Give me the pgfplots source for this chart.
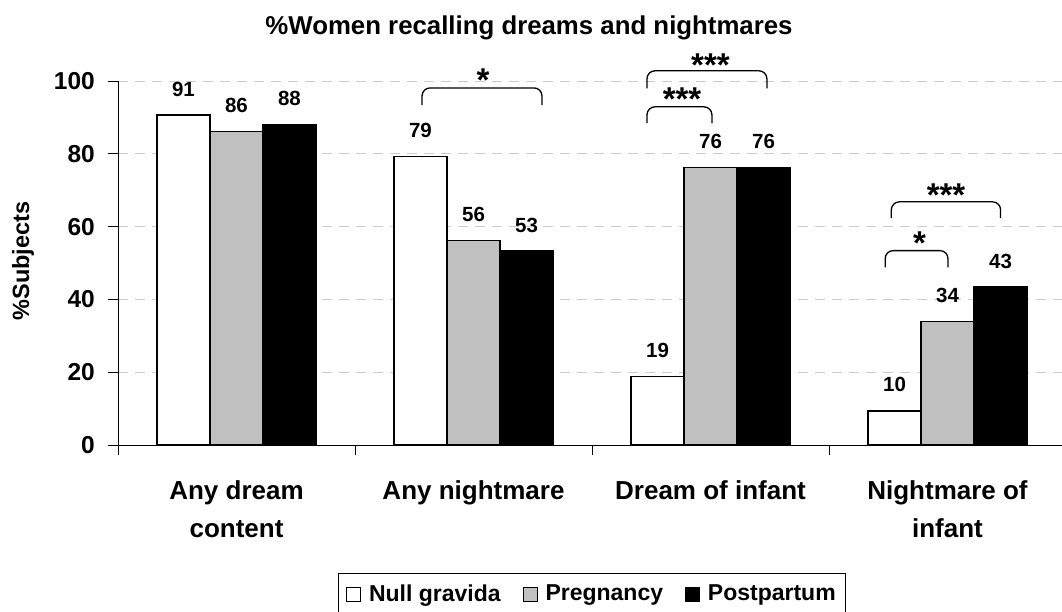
\documentclass[border=0pt]{standalone}
\usepackage{fontspec}
\setmainfont{Liberation Sans}
\usepackage{pgfplots}
\pgfplotsset{compat=1.18}
\definecolor{barGray}{HTML}{C0C0C0}
\definecolor{gridGray}{HTML}{CCCCCC}
\begin{document}
\begin{tikzpicture}
\begin{axis}[
  at={(0pt,0pt)}, anchor=south west,
  scale only axis, width=948pt, height=364pt,
  xmin=-0.5, xmax=3.5, ymin=0, ymax=100,
  clip=false,
  axis lines=left,
  axis line style={-, line width=0.8pt, black},
  ybar=0pt, bar width=53pt,
  ytick={0,20,40,60,80,100},
  /pgf/number format/assume math mode=true,
  yticklabel style={font=\bfseries\fontsize{24.5}{28}\selectfont, inner sep=0pt, xshift=-13pt},
  ymajorgrids,
  grid style={gridGray, dash pattern=on 10pt off 7pt, line width=0.8pt},
  tick align=outside, major tick length=10pt,
  tick style={black, line width=0.8pt},
  xtick={-0.5,0.5,1.5,2.5,3.5}, xticklabels={},
  extra x ticks={0,1,2,3},
  extra x tick labels={{Any dream\\content},{Any nightmare},{Dream of infant},{Nightmare of\\infant}},
  extra x tick style={major tick length=0pt,
    xticklabel style={align=center, anchor=north, inner sep=0pt, yshift=-35pt,
      font=\bfseries\fontsize{26}{38}\selectfont}},
  point meta=explicit symbolic,
  nodes near coords,
  nodes near coords style={font=\bfseries\fontsize{20.5}{24}\selectfont, anchor=center, yshift=26pt},
  legend columns=3,
  legend style={at={(0.5,-0.3516)}, anchor=north, draw=black, line width=0.8pt,
    font=\bfseries\fontsize{23}{27}\selectfont,
    /tikz/every odd column/.append style={column sep=6pt},
    /tikz/every even column/.append style={column sep=20pt},
    inner xsep=8pt, inner ysep=9pt},
  legend image code/.code={\draw[#1, draw=black, line width=0.8pt] (0pt,-8pt) rectangle (14pt,6pt);},
]
\addplot[fill=white, draw=black, line width=1.5pt] coordinates {(0,90.6) [91] (1,79.2) [79] (2,18.8) [19] (3,9.4) [10]};
\addplot[fill=barGray, draw=black, line width=1.5pt] coordinates {(0,86.1) [86] (1,56.2) [56] (2,76.2) [76] (3,33.9) [34]};
\addplot[fill=black, draw=black, line width=1.5pt] coordinates {(0,88.1) [88] (1,53.3) [53] (2,76.2) [76] (3,43.4) [43]};
\legend{Null gravida, Pregnancy, Postpartum}
% significance brackets
\draw[line width=1.3pt, rounded corners=8pt] (axis cs:0.783,93.4) -- (axis cs:0.783,98.1) -- (axis cs:1.289,98.1) -- (axis cs:1.289,93.4);
\draw[line width=1.3pt, rounded corners=8pt] (axis cs:1.732,88.4) -- (axis cs:1.732,92.9) -- (axis cs:2.006,92.9) -- (axis cs:2.006,88.4);
\draw[line width=1.3pt, rounded corners=8pt] (axis cs:1.732,98.0) -- (axis cs:1.732,102.8) -- (axis cs:2.238,102.8) -- (axis cs:2.238,98.0);
\draw[line width=1.3pt, rounded corners=8pt] (axis cs:2.763,62.3) -- (axis cs:2.763,66.8) -- (axis cs:3.224,66.8) -- (axis cs:3.224,62.3);
\draw[line width=1.3pt, rounded corners=8pt] (axis cs:2.737,48.8) -- (axis cs:2.737,53.4) -- (axis cs:3.002,53.4) -- (axis cs:3.002,48.8);
\begin{scope}[every node/.style={font=\bfseries\fontsize{33}{35}\selectfont, anchor=base, inner sep=0pt}]
\node at (axis cs:1.04,97.1) {*};
\node at (axis cs:1.880,91.9) {***};
\node at (axis cs:2.0,101.1) {***};
\node at (axis cs:2.994,65.5) {***};
\node at (axis cs:2.882,52.2) {*};
\end{scope}
\end{axis}
\node[font=\bfseries\fontsize{25.8}{30}\selectfont, anchor=base] at (411pt,410pt) {\%Women recalling dreams and nightmares};
\node[font=\bfseries\fontsize{23.5}{27}\selectfont, rotate=90] at (-95pt,184pt) {\%Subjects};
\pgfresetboundingbox
\useasboundingbox (-118pt,-167pt) rectangle (944pt,445pt);
\end{tikzpicture}
\end{document}
